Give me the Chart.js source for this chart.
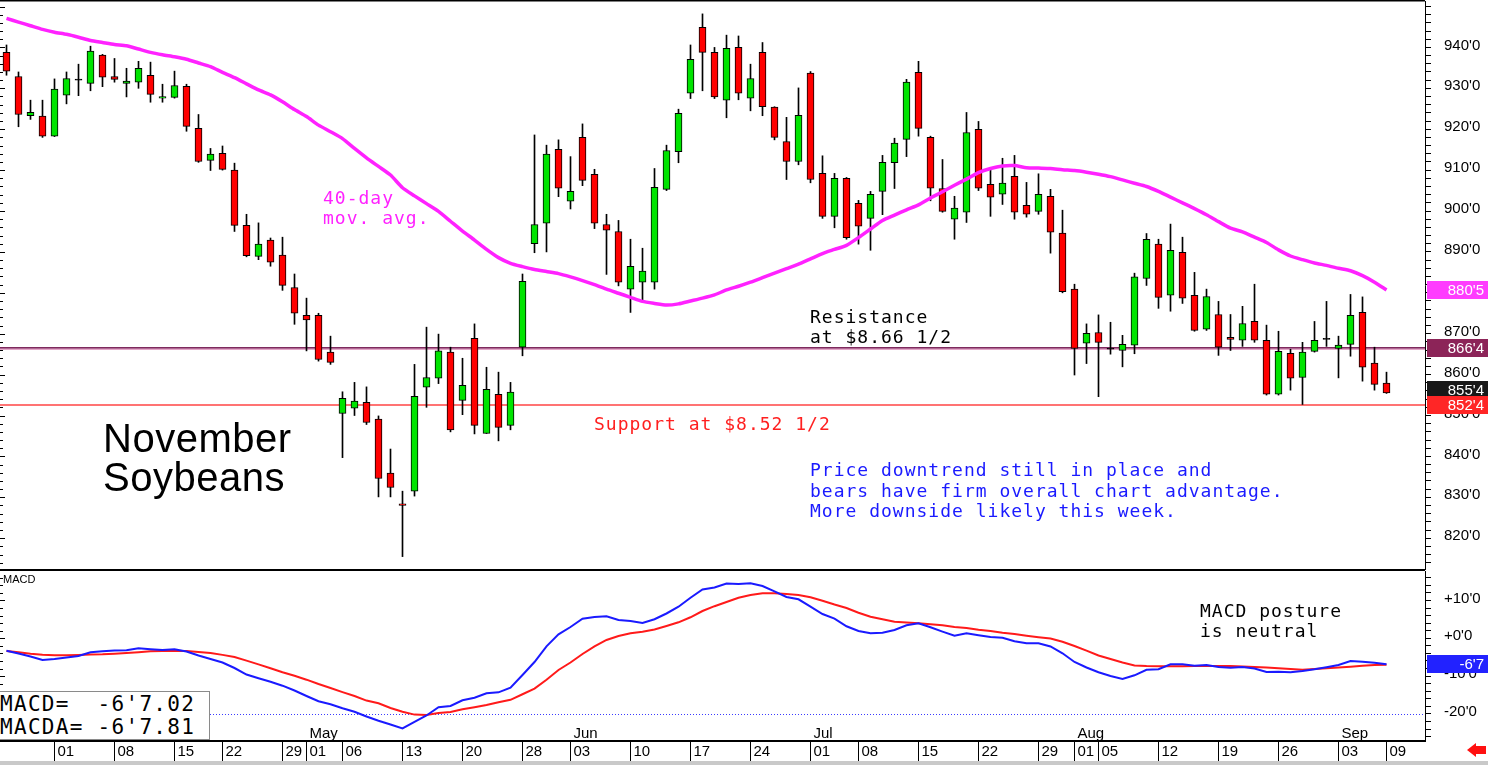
<!DOCTYPE html>
<html>
<head>
<meta charset="utf-8">
<title>November Soybeans</title>
<script src="https://cdn.jsdelivr.net/npm/chart.js@4.4.1/dist/chart.umd.min.js"></script>
<style>
  html, body { margin: 0; padding: 0; background: #fff; }
  body { width: 1488px; height: 765px; position: relative; overflow: hidden; }
  canvas { position: absolute; left: 0; }
  #price { top: 0; }
  #macd { top: 571px; }
  .note {
    position: absolute;
    font-family: 'DejaVu Sans Mono', monospace;
    font-size: 18px;
    letter-spacing: 1px;
    line-height: 20px;
    white-space: pre;
  }
  #title {
    position: absolute; left: 103px; top: 419px;
    font-family: 'Liberation Sans', Arial, sans-serif;
    font-size: 40px; line-height: 39px; letter-spacing: 0.5px; color: #000; white-space: pre;
  }
  #macdTag {
    position: absolute; left: 3px; top: 573px;
    font-family: 'Liberation Sans', Arial, sans-serif; font-size: 11px; color: #000;
  }
  #readout {
    position: absolute; left: 0; top: 691px; width: 210px; height: 49px;
    border: 1px solid #8a8a8a; border-left: 0; background: #fff;
    font-family: 'DejaVu Sans Mono', monospace; font-size: 21px; letter-spacing: 1.3px;
    line-height: 23px; white-space: pre; color: #000; padding-top: 1px;
    box-sizing: border-box;
  }
  #strip { position: absolute; left: 0; top: 761px; width: 1488px; height: 4px; background: #c9c9c9; }
  #arrow { position: absolute; left: 1467px; top: 743px; width: 20px; height: 14px; }
  #arrow .head { position: absolute; left: 0; top: 0; width: 0; height: 0;
    border-top: 7px solid transparent; border-bottom: 7px solid transparent; border-right: 9px solid #ff1010; }
  #arrow .tail { position: absolute; left: 8px; top: 3px; width: 11px; height: 8px; background: #ff1010; }
</style>
</head>
<body>
<canvas id="price" width="1488" height="571"></canvas>
<canvas id="macd" width="1488" height="194"></canvas>

<div class="note" style="left:323px; top:188px; color:#ff22ff; line-height:19.5px;">40-day
mov. avg.</div>
<div class="note" style="left:810px; top:307px; color:#000;">Resistance
at $8.66 1/2</div>
<div class="note" style="left:594px; top:414px; color:#ff2020;">Support at $8.52 1/2</div>
<div class="note" style="left:810px; top:460px; color:#1a1aff; line-height:20.5px;">Price downtrend still in place and
bears have firm overall chart advantage.
More downside likely this week.</div>
<div class="note" style="left:1200px; top:601px; color:#000; line-height:19.5px;">MACD posture
is neutral</div>
<div id="title">November
Soybeans</div>
<div id="macdTag">MACD</div>
<div id="readout">MACD=  -6'7.02
MACDA= -6'7.81</div>
<div id="strip"></div>
<div id="arrow"><div class="head"></div><div class="tail"></div></div>

<script>
// trading days, 2019 (Mar 26 .. Sep 09)
const dates = [
  '03-26','03-27','03-28','03-29',
  '04-01','04-02','04-03','04-04','04-05','04-08','04-09','04-10','04-11','04-12',
  '04-15','04-16','04-17','04-18','04-22','04-23','04-24','04-25','04-26','04-29','04-30',
  '05-01','05-02','05-03','05-06','05-07','05-08','05-09','05-10','05-13','05-14','05-15','05-16','05-17',
  '05-20','05-21','05-22','05-23','05-24','05-28','05-29','05-30','05-31',
  '06-03','06-04','06-05','06-06','06-07','06-10','06-11','06-12','06-13','06-14',
  '06-17','06-18','06-19','06-20','06-21','06-24','06-25','06-26','06-27','06-28',
  '07-01','07-02','07-03','07-05','07-08','07-09','07-10','07-11','07-12',
  '07-15','07-16','07-17','07-18','07-19','07-22','07-23','07-24','07-25','07-26','07-29','07-30','07-31',
  '08-01','08-02','08-05','08-06','08-07','08-08','08-09','08-12','08-13','08-14','08-15','08-16',
  '08-19','08-20','08-21','08-22','08-23','08-26','08-27','08-28','08-29','08-30',
  '09-03','09-04','09-05','09-06','09-09'
];

const opens = [
  938.8, 932.9, 923.3, 923.2, 918.3, 928.3, 932.0, 931.2, 938.1, 932.9,
  931.2, 931.5, 933.2, 927.6, 927.8, 930.5, 920.2, 912.4, 914.1, 910.0,
  896.5, 888.9, 892.9, 889.2, 881.3, 874.5, 874.5, 865.5, 850.5, 851.8,
  853.2, 849.1, 835.9, 828.4, 831.5, 856.9, 859.1, 865.5, 853.7, 868.9,
  845.6, 855.2, 847.6, 866.7, 892.0, 897.0, 915.1, 902.4, 918.0, 909.0,
  896.7, 895.0, 880.9, 882.6, 882.6, 905.3, 914.5, 928.8, 944.9, 938.8,
  927.1, 940.0, 927.6, 938.8, 925.4, 917.0, 912.1, 933.7, 909.2, 898.7,
  908.0, 901.9, 898.2, 904.8, 911.8, 917.5, 933.9, 918.0, 905.5, 898.0,
  899.7, 920.0, 906.5, 904.1, 908.5, 901.4, 899.9, 903.6, 894.6, 880.9,
  867.7, 870.3, 866.2, 865.9, 867.2, 883.5, 891.9, 879.4, 889.9, 879.4,
  871.1, 874.7, 869.1, 868.4, 873.0, 868.4, 855.2, 865.2, 859.3, 865.7,
  868.6, 866.4, 867.4, 875.2, 862.8, 857.9
];
const highs = [
  940.6, 934.0, 927.1, 927.1, 932.3, 934.0, 935.9, 940.3, 938.3, 937.3,
  934.9, 936.6, 936.4, 931.0, 934.2, 931.0, 923.6, 915.3, 915.9, 911.7,
  899.2, 897.1, 893.4, 893.6, 884.6, 878.7, 875.0, 869.4, 855.8, 858.1,
  857.0, 849.9, 841.8, 831.5, 862.5, 871.6, 869.9, 866.7, 864.0, 872.4,
  861.8, 860.6, 858.1, 884.6, 918.6, 916.1, 917.4, 913.3, 921.3, 910.2,
  899.2, 897.7, 893.1, 890.9, 910.4, 916.1, 924.9, 940.6, 948.2, 940.0,
  943.0, 942.8, 935.9, 941.2, 925.5, 922.9, 930.1, 934.1, 913.5, 909.2,
  908.2, 902.6, 904.8, 913.6, 917.8, 932.2, 936.6, 918.3, 912.6, 903.6,
  924.1, 921.9, 910.2, 912.9, 913.6, 907.0, 909.1, 905.3, 900.2, 882.1,
  872.4, 874.6, 872.8, 869.6, 884.8, 894.5, 893.1, 896.8, 893.6, 885.0,
  880.9, 877.9, 874.7, 876.7, 882.1, 872.1, 870.6, 866.2, 867.9, 873.0,
  877.9, 869.4, 879.6, 879.0, 866.7, 860.6
];
const lows = [
  933.2, 920.6, 922.4, 918.0, 918.2, 926.2, 928.2, 929.4, 930.4, 931.5,
  927.9, 930.0, 926.6, 926.6, 927.6, 919.5, 911.9, 909.9, 910.0, 895.0,
  888.8, 888.1, 886.5, 880.6, 872.3, 865.8, 863.3, 862.5, 839.7, 850.0,
  847.8, 830.1, 830.1, 815.5, 830.3, 852.0, 857.8, 846.0, 850.2, 845.5,
  845.6, 843.8, 846.5, 864.6, 889.8, 890.0, 903.5, 900.5, 906.2, 895.7,
  884.5, 881.7, 875.2, 877.8, 880.9, 905.0, 911.8, 927.5, 929.4, 927.5,
  922.8, 927.2, 924.5, 923.3, 917.4, 907.7, 911.3, 906.9, 898.2, 895.9,
  893.1, 891.9, 890.4, 899.1, 905.5, 913.3, 918.3, 902.5, 899.7, 893.1,
  897.2, 905.0, 898.7, 901.6, 898.0, 898.5, 899.2, 889.7, 880.0, 859.9,
  862.7, 854.6, 865.0, 861.9, 865.1, 881.8, 876.2, 875.5, 877.4, 870.6,
  870.8, 864.7, 865.9, 866.9, 867.9, 855.0, 855.0, 856.2, 852.7, 865.5,
  866.9, 859.2, 864.5, 858.4, 856.2, 855.4
];
const closes = [
  934.2, 923.6, 924.1, 918.3, 929.8, 932.4, 932.0, 939.1, 932.7, 932.2,
  931.8, 934.9, 928.5, 928.0, 930.7, 920.7, 912.1, 913.9, 910.2, 896.5,
  889.1, 891.9, 887.5, 881.8, 875.0, 873.4, 863.7, 863.0, 854.2, 853.5,
  848.3, 834.6, 832.4, 828.0, 854.7, 859.3, 865.8, 846.5, 857.4, 847.6,
  856.4, 847.1, 855.7, 882.8, 896.7, 913.9, 905.6, 904.8, 907.5, 897.0,
  895.3, 882.6, 886.5, 885.3, 905.8, 914.8, 923.9, 937.1, 938.8, 927.9,
  939.8, 928.8, 932.4, 925.5, 918.0, 912.1, 923.4, 907.7, 898.7, 908.0,
  893.5, 896.3, 904.1, 911.9, 916.6, 931.5, 920.2, 905.6, 899.9, 900.7,
  919.2, 905.6, 903.4, 906.8, 899.7, 899.2, 904.1, 894.8, 880.3, 866.4,
  870.1, 867.9, 866.2, 867.4, 883.9, 893.1, 878.9, 890.4, 878.7, 870.8,
  879.1, 866.7, 868.6, 872.5, 868.4, 855.2, 865.7, 859.1, 865.5, 868.4,
  868.6, 867.2, 874.5, 861.8, 857.6, 855.5
];
const movingAvg40 = [
  947.1, 946.2, 945.3, 944.4, 943.7, 943.2, 942.5, 941.7, 941.2, 940.7,
  940.4, 939.6, 938.8, 938.2, 937.7, 937.1, 936.2, 935.3, 933.9, 932.6,
  931.1, 929.6, 928.4, 926.7, 924.8, 923.1, 921.0, 919.4, 917.7, 915.3,
  913.0, 910.9, 908.8, 905.7, 903.7, 901.8, 899.9, 897.5, 895.1, 892.9,
  890.6, 888.6, 887.2, 886.4, 885.7, 885.2, 884.7, 883.9, 883.0, 882.0,
  880.9, 879.9, 878.9, 877.9, 877.4, 877.0, 877.3, 878.0, 878.7, 879.5,
  880.7, 881.6, 882.6, 883.7, 884.8, 885.9, 887.0, 888.3, 889.6, 890.6,
  891.6, 893.5, 895.6, 897.7, 899.0, 900.3, 901.5, 903.2, 904.7, 906.3,
  907.8, 909.4, 910.4, 911.0, 911.1, 910.6, 910.5, 910.4, 910.1, 909.9,
  909.5, 909.0, 908.4, 907.6, 906.8, 906.0, 904.8, 903.4, 902.0, 900.6,
  899.1, 897.4, 895.8, 894.9, 893.6, 892.3, 890.5, 889.0, 888.1, 887.3,
  886.7, 886.0, 885.4, 884.2, 882.6, 880.7
];
const macdLine = [
  -3.28, -4.02, -4.81, -5.74, -5.48, -5.08, -4.68, -3.70, -3.44, -3.25,
  -3.17, -2.65, -2.91, -3.10, -2.88, -3.49, -4.55, -5.48, -6.40, -7.86,
  -9.58, -10.58, -11.51, -12.54, -13.81, -15.26, -16.64, -17.46, -18.52, -19.44,
  -20.69, -21.80, -22.80, -23.86, -22.14, -20.42, -18.25, -17.91, -16.40, -15.74,
  -14.55, -14.29, -13.07, -9.71, -6.27, -2.12, 1.06, 2.99, 5.19, 5.61,
  5.82, 4.84, 4.58, 4.05, 5.03, 6.56, 8.36, 10.74, 12.91, 13.44,
  14.50, 14.37, 14.55, 13.84, 12.43, 10.93, 10.32, 8.36, 6.43, 5.19,
  3.17, 1.93, 1.32, 1.48, 2.20, 3.44, 3.97, 2.91, 1.75, 0.66,
  1.32, 0.82, 0.34, 0.16, -0.77, -1.32, -1.30, -2.17, -3.97, -6.27,
  -7.72, -8.99, -9.97, -10.77, -9.79, -8.33, -8.20, -6.88, -6.88, -7.25,
  -7.06, -7.59, -7.78, -7.59, -7.99, -8.92, -8.84, -8.99, -8.65, -8.20,
  -7.65, -7.06, -6.01, -6.19, -6.48, -6.88
];
const signalLine = [
  -3.36, -3.70, -4.07, -4.34, -4.50, -4.47, -4.42, -4.31, -4.23, -4.07,
  -3.89, -3.68, -3.44, -3.36, -3.36, -3.39, -3.62, -3.89, -4.39, -4.95,
  -5.90, -6.90, -7.94, -8.97, -9.92, -10.95, -12.09, -13.15, -14.23, -15.26,
  -16.48, -17.20, -18.44, -19.44, -20.19, -20.29, -19.76, -19.50, -18.78, -18.25,
  -17.65, -16.93, -16.27, -14.81, -13.31, -10.95, -8.39, -6.40, -4.15, -2.14,
  -0.45, 0.61, 1.32, 1.75, 2.33, 3.25, 4.23, 5.56, 7.22, 8.49,
  9.60, 10.74, 11.46, 11.90, 11.90, 11.72, 11.46, 10.85, 9.95, 8.92,
  8.02, 6.77, 5.71, 5.03, 4.39, 4.15, 3.97, 3.70, 3.44, 2.99,
  2.72, 2.25, 1.93, 1.48, 1.14, 0.69, 0.29, -0.05, -0.90, -2.04,
  -3.28, -4.55, -5.48, -6.40, -7.20, -7.33, -7.38, -7.41, -7.41, -7.35,
  -7.33, -7.33, -7.33, -7.43, -7.59, -7.75, -7.94, -8.10, -8.31, -8.12,
  -7.91, -7.75, -7.54, -7.28, -7.06, -6.98
];

const SUPPORT = 852.5;
const RESISTANCE = 866.5;
const priceLabels = [820, 830, 840, 850, 860, 870, 880, 890, 900, 910, 920, 930, 940];
const macdLabels = [-20, -10, 0, 10];
const monthNames = ['Jan', 'Feb', 'Mar', 'Apr', 'May', 'Jun', 'Jul', 'Aug', 'Sep', 'Oct', 'Nov', 'Dec'];

const days = dates.map(s => {
  const [m, d] = s.split('-').map(Number);
  return new Date(2019, m - 1, d);
});
// a tick on the first trading day of each week and of each month
const weekStarts = days
  .map((d, i) => (i > 0 && (d.getDay() < days[i - 1].getDay() || d.getMonth() !== days[i - 1].getMonth())) ? i : -1)
  .filter(i => i >= 0);
const monthStarts = weekStarts.filter(i => days[i].getMonth() !== days[i - 1].getMonth());

const last = dates.length - 1;
const X_MIN = -0.5417;
const X_MAX = 118.2083;

// price in eighths, like 852'4
const eighths = v => {
  const sign = v < 0 ? '-' : '';
  const a = Math.abs(v);
  const whole = Math.floor(a);
  return `${sign}${whole}'${Math.floor((a - whole) * 8 + 1e-6)}`;
};

Chart.defaults.font.family = "'Liberation Sans', Arial, sans-serif";
Chart.defaults.color = '#000';

const fixWidth = scale => {
  scale.width = 63;
  scale.paddingTop = 0;
  scale.paddingBottom = 0;
};

const valueTag = (ctx, area, py, text, bg) => {
  ctx.fillStyle = bg;
  ctx.fillRect(area.right + 2, Math.round(py) - 9, 61, 18);
  ctx.fillStyle = '#fff';
  ctx.font = "15px 'Liberation Sans', Arial, sans-serif";
  ctx.textAlign = 'right';
  ctx.textBaseline = 'middle';
  ctx.fillText(text, 1484, Math.round(py) + 1);
};

const priceDecor = {
  id: 'priceDecor',
  beforeDatasetsDraw(chart) {
    const { ctx, chartArea: a, scales: { y } } = chart;
    ctx.save();
    ctx.fillStyle = '#000';
    for (let v = 814; v <= 950; v += 2) {
      ctx.fillRect(0, Math.round(y.getPixelForValue(v)), v % 10 === 0 ? 5 : 3, 1);
    }
    const rY = Math.round(y.getPixelForValue(RESISTANCE));
    ctx.fillStyle = '#e3a6c8';
    ctx.fillRect(a.left, rY - 1, a.right - a.left, 3);
    ctx.fillStyle = '#7e2a5e';
    ctx.fillRect(a.left, rY - 1, a.right - a.left, 1.5);
    const sY = Math.round(y.getPixelForValue(SUPPORT));
    ctx.fillStyle = '#ff7373';
    ctx.fillRect(a.left, sY - 1, a.right - a.left, 2);
    ctx.restore();
  },
  afterDraw(chart) {
    const { ctx, chartArea: a, scales: { y } } = chart;
    ctx.save();
    ctx.fillStyle = '#000';
    ctx.fillRect(0, 0, a.right, 1.5);
    ctx.fillRect(0, a.bottom, a.right, 2);
    valueTag(ctx, a, y.getPixelForValue(movingAvg40[last]), eighths(movingAvg40[last]), '#ff3cff');
    valueTag(ctx, a, y.getPixelForValue(RESISTANCE), eighths(RESISTANCE), '#8c2458');
    valueTag(ctx, a, y.getPixelForValue(closes[last]) - 3, eighths(closes[last]), '#181818');
    valueTag(ctx, a, y.getPixelForValue(SUPPORT), eighths(SUPPORT), '#ff2626');
    ctx.restore();
  }
};

const macdDecor = {
  id: 'macdDecor',
  beforeDatasetsDraw(chart) {
    const { ctx, chartArea: a, scales: { y } } = chart;
    ctx.save();
    ctx.fillStyle = '#000';
    for (let v = -26; v <= 16; v += 2) {
      ctx.fillRect(0, Math.round(y.getPixelForValue(v)), v % 10 === 0 ? 5 : 3, 1);
    }
    ctx.strokeStyle = '#3b3bff';
    ctx.lineWidth = 1;
    ctx.setLineDash([1, 2]);
    const dY = Math.round(y.getPixelForValue(macdLabels[0])) + 0.5;
    ctx.beginPath();
    ctx.moveTo(a.left, dY);
    ctx.lineTo(a.right, dY);
    ctx.stroke();
    ctx.restore();
  },
  afterDraw(chart) {
    const { ctx, chartArea: a, scales: { x, y } } = chart;
    ctx.save();
    ctx.fillStyle = '#000';
    ctx.font = "15px 'Liberation Sans', Arial, sans-serif";
    ctx.textAlign = 'left';
    ctx.textBaseline = 'alphabetic';
    monthStarts.forEach(i => {
      ctx.fillText(monthNames[days[i].getMonth()], x.getPixelForValue(i) + 3, a.bottom - 3);
    });
    valueTag(ctx, a, y.getPixelForValue(macdLine[last]), eighths(macdLine[last]), '#2222ff');
    ctx.restore();
  }
};

new Chart(document.getElementById('price'), {
  type: 'bar',
  data: {
    datasets: [
      {
        type: 'line',
        label: '40-day mov. avg.',
        data: movingAvg40.map((v, i) => ({ x: i, y: v })),
        borderColor: '#ff22ff',
        borderWidth: 3.5,
        pointRadius: 0,
        tension: 0.2,
        order: 0
      },
      {
        label: 'body',
        data: dates.map((d, i) => ({ x: i, y: [opens[i], closes[i]] })),
        backgroundColor: dates.map((d, i) =>
          Math.abs(closes[i] - opens[i]) < 0.3 ? '#000' : (closes[i] > opens[i] ? '#00e400' : '#ff0000')),
        borderColor: '#000',
        borderWidth: 1,
        borderSkipped: false,
        barThickness: 7,
        minBarLength: 1,
        grouped: false,
        order: 1
      },
      {
        label: 'range',
        data: dates.map((d, i) => ({ x: i, y: [lows[i], highs[i]] })),
        backgroundColor: '#000',
        borderWidth: 0,
        barThickness: 1,
        grouped: false,
        order: 2
      }
    ]
  },
  options: {
    responsive: false,
    devicePixelRatio: 1,
    animation: false,
    layout: { padding: { top: 1, bottom: 2, left: 0, right: 0 } },
    plugins: { legend: { display: false }, tooltip: { enabled: false } },
    scales: {
      x: { type: 'linear', min: X_MIN, max: X_MAX, offset: false, display: false },
      y: {
        position: 'right',
        min: 812.47,
        max: 951.35,
        afterBuildTicks: scale => {
          const t = [];
          for (let v = 814; v <= 950; v += 2) t.push({ value: v });
          scale.ticks = t;
        },
        afterFit: fixWidth,
        border: { display: true, color: '#000', width: 1 },
        grid: { drawOnChartArea: false, drawTicks: true, tickLength: 6, color: '#000' },
        ticks: {
          autoSkip: false,
          padding: 13,
          labelOffset: -2,
          font: { size: 15 },
          color: '#000',
          callback: v => priceLabels.includes(v) ? `${v}'0` : ''
        }
      }
    }
  },
  plugins: [priceDecor]
});

new Chart(document.getElementById('macd'), {
  type: 'line',
  data: {
    datasets: [
      {
        label: 'MACD',
        data: macdLine.map((v, i) => ({ x: i, y: v })),
        borderColor: '#1a1aff',
        borderWidth: 2,
        pointRadius: 0,
        tension: 0
      },
      {
        label: 'MACDA',
        data: signalLine.map((v, i) => ({ x: i, y: v })),
        borderColor: '#ff1a1a',
        borderWidth: 2,
        pointRadius: 0,
        tension: 0
      }
    ]
  },
  options: {
    responsive: false,
    devicePixelRatio: 1,
    animation: false,
    layout: { padding: 0 },
    plugins: { legend: { display: false }, tooltip: { enabled: false } },
    scales: {
      x: {
        type: 'linear',
        min: X_MIN,
        max: X_MAX,
        offset: false,
        position: 'bottom',
        afterBuildTicks: scale => { scale.ticks = weekStarts.map(i => ({ value: i })); },
        afterFit: scale => { scale.height = 24; scale.paddingLeft = 0; scale.paddingRight = 0; },
        border: { display: true, color: '#000', width: 2 },
        grid: { drawOnChartArea: false, drawTicks: true, tickLength: 24, color: '#000' },
        ticks: {
          autoSkip: false,
          maxRotation: 0,
          align: 'start',
          labelOffset: 3,
          padding: -22,
          font: { size: 15 },
          color: '#000',
          callback: v => String(days[v].getDate()).padStart(2, '0')
        }
      },
      y: {
        position: 'right',
        min: -27.17,
        max: 17.80,
        afterBuildTicks: scale => {
          const t = [];
          for (let v = -26; v <= 16; v += 2) t.push({ value: v });
          scale.ticks = t;
        },
        afterFit: fixWidth,
        border: { display: true, color: '#000', width: 1 },
        grid: { drawOnChartArea: false, drawTicks: true, tickLength: 6, color: '#000' },
        ticks: {
          autoSkip: false,
          padding: 13,
          labelOffset: -2,
          font: { size: 15 },
          color: '#000',
          callback: v => macdLabels.includes(v) ? `${v >= 0 ? '+' : ''}${v}'0` : ''
        }
      }
    }
  },
  plugins: [macdDecor]
});
</script>
</body>
</html>
